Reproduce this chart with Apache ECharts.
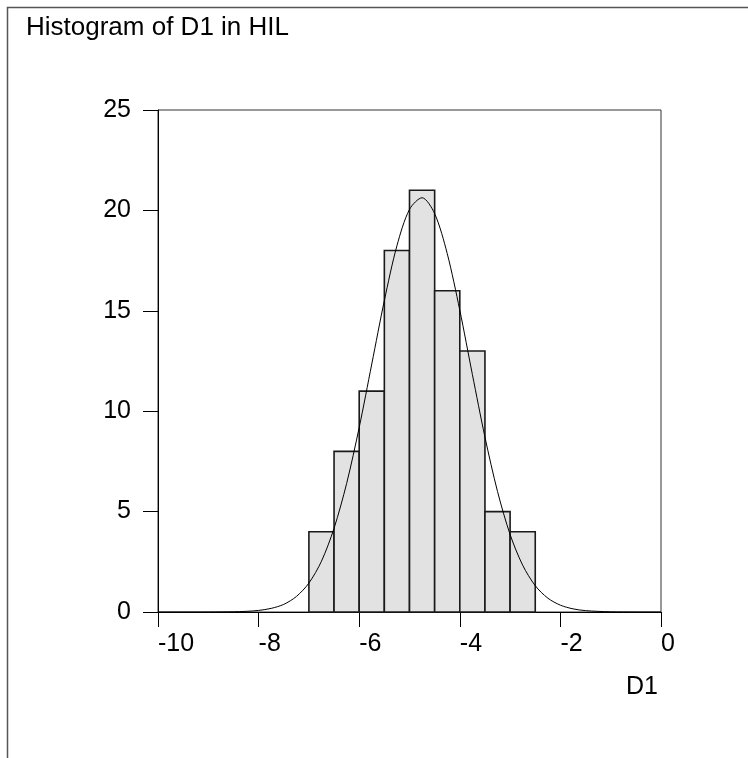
<!DOCTYPE html>
<html><head><meta charset="utf-8">
<script src="https://cdn.jsdelivr.net/npm/echarts@6/dist/echarts.min.js"></script>
<style>html,body{margin:0;padding:0;background:#fff}#c{width:748px;height:758px}</style>
</head><body><div id="c"></div>
<script>
// Histogram bins (edges) and counts
const binEdges = [-7, -6.5, -6, -5.5, -5, -4.5, -4, -3.5, -3, -2.5];
const counts = [4, 8, 11, 18, 21, 16, 13, 5, 4];
// Fitted normal curve
const curveX = [-10, -9.5, -9, -8.5, -8.25, -8, -7.75, -7.5, -7.25, -7, -6.75, -6.5, -6.25, -6, -5.75, -5.5, -5.25, -5, -4.75, -4.5, -4.25, -4, -3.75, -3.5, -3.25, -3, -2.75, -2.5, -2.25, -2, -1.75, -1.5, -1, -0.5, 0];
const curveY = [0, 0.0001, 0.0014, 0.012, 0.032, 0.078, 0.18, 0.38, 0.77, 1.44, 2.53, 4.17, 6.4, 9.19, 12.35, 15.51, 18.24, 20.05, 20.63, 19.84, 17.85, 15.03, 11.83, 8.71, 6.0, 3.86, 2.33, 1.31, 0.69, 0.34, 0.157, 0.068, 0.01, 0.0012, 0];
const xTicks = [-10, -8, -6, -4, -2, 0];
const yTicks = [0, 5, 10, 15, 20, 25];

const titleText = 'Histogram of D1 in HIL';
const xName = 'D1';
const FONT = '"Liberation Sans", Arial, sans-serif';

const chart = echarts.init(document.getElementById('c'), null, {renderer: 'canvas'});
const barData = counts.map((c, i) => [binEdges[i], binEdges[i + 1], c]);
const lineData = curveX.map((x, i) => [x, curveY[i]]);

chart.setOption({
  animation: false,
  backgroundColor: '#fff',
  grid: {left: 158, right: 87, top: 110, bottom: 146, show: true, borderColor: '#333', borderWidth: 1, backgroundColor: 'transparent'},
  xAxis: {
    type: 'value', min: xTicks[0], max: xTicks[xTicks.length - 1], interval: 2,
    splitLine: {show: false},
    axisLine: {show: true, onZero: false, lineStyle: {color: '#000', width: 1}},
    axisTick: {show: true, length: 15, lineStyle: {color: '#000', width: 1}},
    axisLabel: {color: '#000', fontSize: 25, fontFamily: FONT, margin: 20, align: 'left'}
  },
  yAxis: {
    type: 'value', min: yTicks[0], max: yTicks[yTicks.length - 1], interval: 5,
    splitLine: {show: false},
    axisLine: {show: true, onZero: false, lineStyle: {color: '#000', width: 1}},
    axisTick: {show: true, length: 15, lineStyle: {color: '#000', width: 1}},
    axisLabel: {color: '#000', fontSize: 25, fontFamily: FONT, margin: 27}
  },
  graphic: [
    {type: 'polyline', silent: true, shape: {points: [[7.5, 758], [7.5, 7.5], [748, 7.5]]}, style: {stroke: '#555', lineWidth: 1.5, fill: null}},
    {type: 'text', x: 26, y: 15, style: {text: titleText, font: '26px ' + FONT, fill: '#000', textAlign: 'left', textVerticalAlign: 'top'}},
    {type: 'text', x: 658, y: 687, style: {text: xName, font: '25px ' + FONT, fill: '#000', textAlign: 'right', textVerticalAlign: 'middle'}}
  ],
  series: [
    {
      type: 'custom',
      data: barData,
      encode: {x: [0, 1], y: 2},
      z: 2,
      renderItem: function (params, api) {
        const p0 = api.coord([api.value(0), 0]);
        const p1 = api.coord([api.value(1), api.value(2)]);
        return {
          type: 'rect',
          shape: {x: p0[0], y: p1[1], width: p1[0] - p0[0], height: p0[1] - p1[1]},
          style: {fill: '#e2e2e2', stroke: '#1a1a1a', lineWidth: 1.6}
        };
      }
    },
    {
      type: 'line',
      data: lineData,
      smooth: 0.3,
      showSymbol: false,
      z: 3,
      lineStyle: {color: '#000', width: 1}
    }
  ]
});
</script>
</body></html>
